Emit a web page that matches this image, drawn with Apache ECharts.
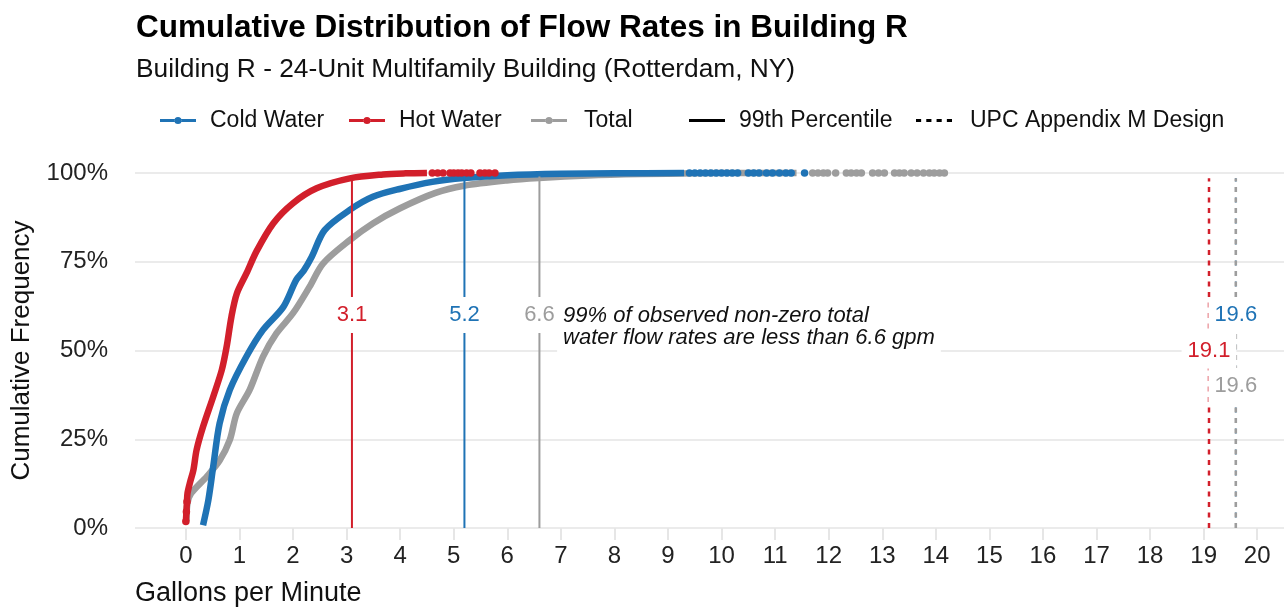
<!DOCTYPE html>
<html>
<head>
<meta charset="utf-8">
<script src="https://cdn.jsdelivr.net/npm/echarts@6/dist/echarts.min.js"></script>
<style>
html, body { margin: 0; padding: 0; background: #fff; }
#main { width: 1286px; height: 607px; }
</style>
</head>
<body>
<div id="main"></div>
<script>
// CDF curves (x = gallons per minute, y = cumulative share)
var hotX = [0.0, 0.01, 0.02, 0.03, 0.08, 0.14, 0.2, 0.32, 0.51, 0.67, 0.76, 0.85, 0.95, 1.13, 1.32, 1.63, 2.0, 2.44, 3.06, 3.68, 4.1, 4.5];
var hotY = [0.018, 0.046, 0.074, 0.098, 0.13, 0.163, 0.22, 0.285, 0.37, 0.445, 0.51, 0.595, 0.66, 0.717, 0.78, 0.858, 0.915, 0.957, 0.985, 0.996, 0.999, 1.0];
var hotTail = [4.6, 4.7, 4.8, 4.93, 5.0, 5.08, 5.15, 5.24, 5.32, 5.49, 5.58, 5.66, 5.77];

var coldX = [0.32, 0.42, 0.51, 0.63, 0.82, 1.13, 1.44, 1.82, 2.06, 2.2, 2.35, 2.59, 3.06, 3.49, 3.99, 4.6, 5.19, 6.0, 7.0, 8.0, 9.3];
var coldY = [0.008, 0.079, 0.173, 0.295, 0.389, 0.483, 0.558, 0.623, 0.699, 0.725, 0.764, 0.839, 0.896, 0.933, 0.955, 0.975, 0.986, 0.994, 0.998, 0.999, 1.0];
var coldTail = [9.4, 9.5, 9.6, 9.7, 9.8, 9.9, 10.0, 10.1, 10.2, 10.3, 10.5, 10.6, 10.7, 10.84, 10.95, 11.08, 11.2, 11.3, 11.55];

var totalX = [0.01, 0.03, 0.1, 0.39, 0.63, 0.82, 0.95, 1.19, 1.44, 1.69, 2.0, 2.31, 2.56, 3.06, 3.49, 3.99, 4.66, 5.19, 5.99, 6.59, 7.5, 8.5, 9.5, 10.5, 11.4];
var totalY = [0.02, 0.07, 0.098, 0.145, 0.19, 0.248, 0.323, 0.389, 0.483, 0.548, 0.605, 0.68, 0.745, 0.811, 0.858, 0.9, 0.944, 0.964, 0.979, 0.986, 0.993, 0.997, 0.999, 1.0, 1.0];
var totalTail = [11.7, 11.8, 11.9, 11.98, 12.13, 12.33, 12.42, 12.52, 12.61, 12.82, 12.93, 13.04, 13.23, 13.32, 13.41, 13.54, 13.65, 13.77, 13.88, 13.97, 14.07, 14.16];

// 99th percentile and UPC Appendix M design values (gpm)
var p99 = { cold: 5.2, hot: 3.1, total: 6.6 };
var upc = { cold: 19.6, hot: 19.1, total: 19.6 };
var xTicks = [0, 1, 2, 3, 4, 5, 6, 7, 8, 9, 10, 11, 12, 13, 14, 15, 16, 17, 18, 19, 20];

var cBlue = '#1f73b5';
var cRed = '#d21f2b';
var cGray = '#9d9d9d';

function pairs(xs, ys) {
    var out = [];
    for (var i = 0; i < xs.length; i++) out.push([xs[i], ys[i]]);
    return out;
}
function tail(xs) {
    return xs.map(function (x) { return [x, 1.0]; });
}

var myChart = echarts.init(document.getElementById('main'));

// legend icons: line with a dot, plain line, dotted line
var lineIcon = 'path://M0,2.5h14.6v3h-14.6z M21.4,2.5h14.6v3h-14.6z M14.4,4 a3.6,3.6 0 1,0 7.2,0 a3.6,3.6 0 1,0 -7.2,0';
var solidIcon = 'path://M0,0h36v3h-36z';
var dotIcon = 'path://M0,0h5v3h-5z M10,0h5v3h-5z M20,0h5v3h-5z M30,0h5v3h-5z';

function legendAt(left, name, icon, gap) {
    return {
        left: left, top: 104, orient: 'horizontal',
        itemWidth: 36, itemHeight: 8, selectedMode: false,
        textStyle: { fontSize: 23, color: '#111', fontFamily: 'Liberation Sans', padding: [0, 0, 0, gap] },
        data: [{ name: name, icon: icon }]
    };
}

var labelBox = function (x, y, txt, color) {
    return {
        value: [x, y],
        label: {
            show: true, position: 'inside', formatter: txt, color: color, opacity: 1,
            fontSize: 22, fontFamily: 'Liberation Sans',
            backgroundColor: '#fff', padding: [7, 6]
        }
    };
};

var curve = function (name, z, color, xs, ys) {
    return {
        name: name, type: 'line', z: z, color: color, symbol: 'none', clip: false,
        smooth: 0.3,
        lineStyle: { width: 6.5, color: color }, data: pairs(xs, ys)
    };
};
var dots = function (name, z, color, pts) {
    return {
        name: name, type: 'scatter', z: z, color: color, symbolSize: 7.5, clip: false,
        itemStyle: { opacity: 1 }, data: pts
    };
};

var opt = {
    animation: false,
    title: [
        {
            text: 'Cumulative Distribution of Flow Rates in Building R',
            left: 131, top: 7,
            textStyle: { fontSize: 31.5, fontWeight: 'bold', color: '#000', fontFamily: 'Liberation Sans' }
        },
        {
            text: 'Building R - 24-Unit Multifamily Building (Rotterdam, NY)',
            left: 131, top: 52,
            textStyle: { fontSize: 26.3, fontWeight: 'normal', color: '#111', fontFamily: 'Liberation Sans' }
        }
    ],
    legend: [
        legendAt(155, 'Cold Water', lineIcon, 9),
        legendAt(344, 'Hot Water', lineIcon, 9),
        legendAt(526, 'Total', lineIcon, 12),
        legendAt(684, '99th Percentile', solidIcon, 9),
        legendAt(911, 'UPC Appendix M Design', dotIcon, 13)
    ],
    graphic: [
        {
            type: 'text', left: 135, top: 580,
            style: { text: 'Gallons per Minute', fontSize: 27, fill: '#111', fontFamily: 'Liberation Sans' }
        }
    ],
    grid: { left: 135, right: 2, top: 173, bottom: 79 },
    xAxis: {
        type: 'value', min: -0.95, max: 20.5,
        axisLine: { show: false },
        splitLine: { show: false },
        axisTick: { show: true, customValues: xTicks, length: 12, lineStyle: { color: '#e6e6e6', width: 2 } },
        axisLabel: { customValues: xTicks, fontSize: 24, color: '#222', margin: 16, fontFamily: 'Liberation Sans' }
    },
    yAxis: {
        type: 'value', min: 0, max: 1, interval: 0.25,
        name: 'Cumulative Frequency', nameLocation: 'middle', nameGap: 100,
        nameTextStyle: { fontSize: 26, color: '#111', fontFamily: 'Liberation Sans' },
        axisLine: { show: false },
        axisTick: { show: false },
        splitLine: { lineStyle: { color: '#ebebeb', width: 2 } },
        axisLabel: {
            fontSize: 24, color: '#222', margin: 27, fontFamily: 'Liberation Sans',
            formatter: function (v) { return Math.round(v * 100) + '%'; }
        }
    },
    series: [
        // curves, gray underneath, red on top
        curve('Total', 2, cGray, totalX, totalY),
        dots('Total', 2, cGray, tail(totalTail)),
        curve('Cold Water', 3, cBlue, coldX, coldY),
        dots('Cold Water', 3, cBlue, tail(coldTail)),
        curve('Hot Water', 4, cRed, hotX, hotY),
        dots('Hot Water', 4, cRed, tail(hotTail).concat([[0.0, 0.018], [0.01, 0.046], [0.02, 0.074]])),

        // 99th percentile lines
        { name: '99th Percentile', type: 'line', z: 5, color: '#000', symbol: 'none', data: [] },
        { type: 'line', z: 5, symbol: 'none', lineStyle: { width: 2, color: cRed }, data: [[p99.hot, 0], [p99.hot, 0.987]] },
        { type: 'line', z: 5, symbol: 'none', lineStyle: { width: 2, color: cBlue }, data: [[p99.cold, 0], [p99.cold, 0.99]] },
        { type: 'line', z: 5, symbol: 'none', lineStyle: { width: 2, color: cGray }, data: [[p99.total, 0], [p99.total, 0.99]] },

        // UPC design lines (dotted); blue one sits under the gray one
        { name: 'UPC Appendix M Design', type: 'line', z: 5, color: '#000', symbol: 'none', data: [] },
        { type: 'line', z: 5, symbol: 'none', lineStyle: { width: 2.5, color: cRed, type: [5, 5.5] }, data: [[upc.hot, 0], [upc.hot, 0.985]] },
        { type: 'line', z: 5, symbol: 'none', lineStyle: { width: 1.6, color: cBlue, type: [5, 5.5] }, data: [[upc.cold, 0], [upc.cold, 0.985]] },
        { type: 'line', z: 6, symbol: 'none', lineStyle: { width: 2.6, color: cGray, type: [5, 5.5] }, data: [[upc.total, 0], [upc.total, 0.985]] },

        // annotation box
        {
            type: 'scatter', z: 9, symbolSize: 0, silent: true, itemStyle: { opacity: 1 },
            data: [{
                value: [6.93, 0.566],
                label: {
                    show: true, position: 'right', distance: 0, opacity: 1,
                    formatter: '99% of observed non-zero total\nwater flow rates are less than 6.6 gpm',
                    fontSize: 22, fontStyle: 'italic', color: '#111', lineHeight: 22,
                    fontFamily: 'Liberation Sans', align: 'left',
                    backgroundColor: '#fff', padding: [6, 6]
                }
            }]
        },
        // value labels with white boxes
        {
            type: 'scatter', z: 10, symbolSize: 0, silent: true, itemStyle: { opacity: 1 },
            data: [
                labelBox(p99.hot, 0.6, String(p99.hot), cRed),
                labelBox(p99.cold, 0.6, String(p99.cold), cBlue),
                labelBox(p99.total, 0.6, String(p99.total), cGray),
                labelBox(upc.cold, 0.6, String(upc.cold), cBlue),
                labelBox(upc.hot, 0.5, String(upc.hot), cRed),
                labelBox(upc.total, 0.4, String(upc.total), cGray)
            ]
        }
    ]
};
myChart.setOption(opt);
</script>
</body>
</html>
